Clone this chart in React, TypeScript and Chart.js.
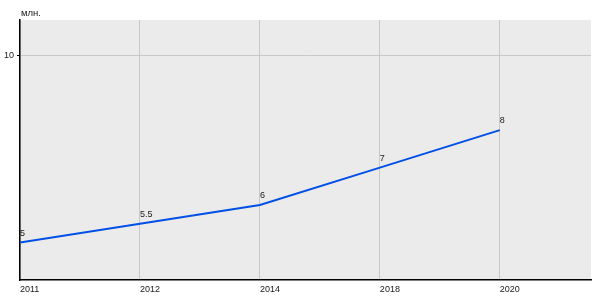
import React, { useEffect, useRef } from "react";
import { Chart, registerables } from "chart.js";

Chart.register(...registerables);

const years = ["2011", "2012", "2014", "2018", "2020"];
const values = [5, 5.5, 6, 7, 8];
const pointLabels = ["5", "5.5", "6", "7", "8"];
const yTickValues = [10];
const unitLabel = "млн.";

const FONT = "'Liberation Sans', Arial, sans-serif";

const bgPlugin = {
  id: "plotBg",
  beforeDraw(chart: any) {
    const { ctx, chartArea } = chart;
    ctx.save();
    ctx.fillStyle = "#ebebeb";
    ctx.fillRect(chartArea.left, chartArea.top, chartArea.right - chartArea.left, chartArea.bottom - chartArea.top);
    ctx.restore();
  },
};

const labelPlugin = {
  id: "pointLabels",
  afterDatasetsDraw(chart: any) {
    const { ctx, chartArea } = chart;
    const meta = chart.getDatasetMeta(0);
    ctx.save();
    ctx.font = `9px ${FONT}`;
    ctx.fillStyle = "#1a1a1a";
    ctx.textAlign = "left";
    ctx.textBaseline = "alphabetic";
    meta.data.forEach((el: any, i: number) => {
      ctx.fillText(pointLabels[i], el.x, el.y - 7);
    });
    ctx.font = `9.5px ${FONT}`;
    ctx.fillText(unitLabel, chartArea.left + 1, chartArea.top - 4);
    ctx.restore();
  },
};

export default function App() {
  const ref = useRef<HTMLCanvasElement | null>(null);
  useEffect(() => {
    if (!ref.current) return;
    const chart = new Chart(ref.current, {
      type: "line",
      data: {
        datasets: [
          {
            data: values.map((v, i) => ({ x: i, y: v })),
            borderColor: "#0050e6",
            borderWidth: 2,
            pointRadius: 0,
            tension: 0,
            fill: false,
          },
        ],
      },
      options: {
        animation: false,
        responsive: false,
        layout: { padding: { top: 20, right: 9, left: 0, bottom: 0 } },
        plugins: { legend: { display: false }, tooltip: { enabled: false } },
        scales: {
          x: {
            type: "linear",
            min: 0,
            max: 4.76,
            afterBuildTicks: (s: any) => {
              s.ticks = years.map((_, i) => ({ value: i }));
            },
            afterFit: (s: any) => {
              s.height = 20;
            },
            ticks: {
              align: "start",
              maxRotation: 0,
              autoSkip: false,
              padding: 4,
              color: "#1a1a1a",
              font: { family: FONT, size: 9 },
              callback: (v: any) => years[v],
            },
            grid: { color: "#c8c8c8", drawTicks: false, tickLength: 0 },
            border: { color: "#000", width: 1.5 },
          },
          y: {
            type: "linear",
            min: 4,
            max: 10.94,
            afterBuildTicks: (s: any) => {
              s.ticks = yTickValues.map((v) => ({ value: v }));
            },
            afterFit: (s: any) => {
              s.width = 20;
            },
            ticks: {
              padding: 3,
              color: "#1a1a1a",
              font: { family: FONT, size: 9 },
            },
            grid: { color: "#c8c8c8", tickColor: "#000", tickLength: 3 },
            border: { color: "#000", width: 1.5 },
          },
        },
      },
      plugins: [bgPlugin, labelPlugin],
    });
    return () => chart.destroy();
  }, []);
  return (
    <div style={{ position: "absolute", left: 0, top: 0, width: 600, height: 300, background: "#fff" }}>
      <canvas ref={ref} width={600} height={300} style={{ width: 600, height: 300 }} />
    </div>
  );
}
